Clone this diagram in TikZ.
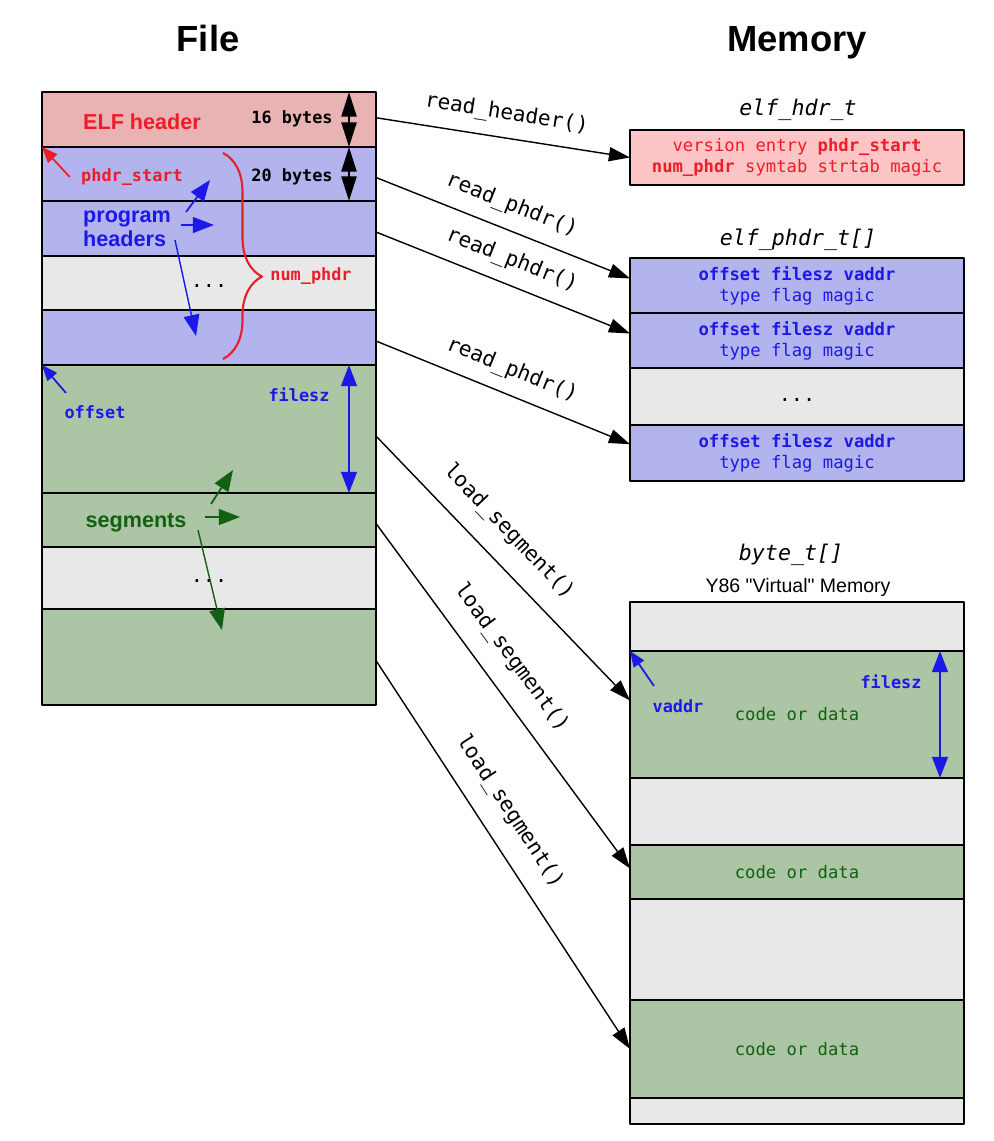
\documentclass[tikz,border=0pt]{standalone}
\usepackage{fontspec}
\setmainfont{Liberation Sans}
\newfontfamily\dvmono{DejaVu Sans Mono}
\newfontfamily\plainsans{Liberation Sans}
\usetikzlibrary{positioning,arrows.meta,decorations.pathreplacing}
\definecolor{hdrpink}{RGB}{234,179,179}
\definecolor{boxpink}{RGB}{253,197,197}
\definecolor{phblue}{RGB}{179,179,238}
\definecolor{gapgray}{RGB}{232,232,232}
\definecolor{seggreen}{RGB}{171,197,165}
\definecolor{txtred}{RGB}{238,28,40}
\definecolor{txtblue}{RGB}{28,24,232}
\definecolor{txtgreen}{RGB}{18,96,18}
\def\pxu{0.02cm}
\begin{document}
\begin{tikzpicture}[x=\pxu,y=-\pxu,line join=round,
  row/.style={draw,line width=1.6pt,outer sep=0pt,inner sep=0pt,minimum width=334*\pxu,align=center,font=\dvmono\fontsize{9.8}{12}\selectfont},
  conn/.style={-{Triangle[length=12pt,width=8pt]},line width=.8pt},
  fn/.style={font=\dvmono\fontsize{12}{14}\selectfont,sloped,above=4pt},
  ttl/.style={font=\dvmono\itshape\fontsize{12.3}{14}\selectfont},
  tag/.style={font=\dvmono\bfseries\fontsize{9.6}{11}\selectfont},
  big/.style={font=\bfseries\fontsize{12.3}{13.6}\selectfont},
  dots/.style={font=\dvmono\fontsize{11.5}{13}\selectfont},
  ptr/.style={-{Triangle[length=9pt,width=7pt]},line width=1pt},
  fat/.style={-{Triangle[length=12pt,width=9pt]},line width=1pt},
  dimarr/.style={{Triangle[length=12pt,width=9pt]}-{Triangle[length=12pt,width=9pt]},line width=1pt}]
\useasboundingbox (0,0) rectangle (993,1141);
\node[font=\bfseries\fontsize{20.7}{24}\selectfont,anchor=base] (tfile) at (208,52) {File};
\node[font=\bfseries\fontsize{20.7}{24}\selectfont,anchor=base] (tmem) at (797,52) {Memory};
% file side
\node[row,fill=hdrpink,minimum height=55*\pxu,anchor=north west] (hdr) at (42,92) {};
\foreach \n/\c/\h/\t [remember=\n as \p (initially hdr)] in {ph1/phblue/54/{},ph2/phblue/55/{},phg/gapgray/54/{\strut...},phn/phblue/55/{},sg1/seggreen/128/{},sg2/seggreen/54/{},sgg/gapgray/62/{\strut...},sgn/seggreen/96/{}}
  \node[row,fill=\c,minimum height=\h*\pxu,below=0pt of \p,dots] (\n) {\t};
\node[big,text=txtred] (elflbl) at (142,122) {ELF header};
\node[tag] (b16) at (292,119) {16 bytes};
\node[tag] (b20) at (292,177) {20 bytes};
\draw[dimarr,line width=1.4pt,{Triangle[length=14pt,width=8.5pt]}-{Triangle[length=14pt,width=8.5pt]}] ([xshift=-27*\pxu]hdr.north east) -- ([xshift=-27*\pxu]hdr.south east);
\draw[dimarr,line width=1.4pt,{Triangle[length=14pt,width=8.5pt]}-{Triangle[length=14pt,width=8.5pt]}] ([xshift=-27*\pxu]ph1.north east) -- ([xshift=-27*\pxu]ph1.south east);
\node[tag,text=txtred] (pslbl) at (132,177) {phdr\_start};
\draw[ptr,txtred] ([xshift=-3pt]pslbl.west) -- (ph1.north west);
\draw[txtred,line width=1.2pt,decorate,decoration={brace,amplitude=0.78cm,aspect=0.6}] (223,153) -- (223,359);
\node[tag,text=txtred] (nplbl) at (311,276) {num\_phdr};
\node[big,text=txtblue,align=left] (phlbl) at (127,229) {program\\headers};
\draw[fat,txtblue] (186,212) -- (210,180);
\draw[fat,txtblue] (181,225) -- (214,225);
\draw[fat,txtblue,line width=.8pt] (175,240) -- (196,336);
\node[tag,text=txtblue] (offlbl) at (95,412) {offset};
\draw[ptr,txtblue] (66,393) -- (sg1.north west);
\node[tag,text=txtblue] (fszl) at (299,395) {filesz};
\draw[dimarr,txtblue] ([xshift=-27*\pxu]sg1.north east) -- ([xshift=-27*\pxu]sg1.south east);
\node[big,text=txtgreen] (seglbl) at (136,523) {segments};
\draw[fat,txtgreen] (211,504) -- (233,470);
\draw[fat,txtgreen] (205,517) -- (240,517);
\draw[fat,txtgreen,line width=.8pt] (198,530) -- (222,630);
% memory side
\node[row,fill=boxpink,text=txtred,minimum height=55*\pxu,anchor=north west] (ehdr) at (630,130) {version entry \textbf{phdr\_start}\\\textbf{num\_phdr} symtab strtab magic};
\node[ttl] (thdr) at (798,110) {elf\_hdr\_t};
\node[row,fill=phblue,text=txtblue,minimum height=55*\pxu,anchor=north west] (ep1) at (630,258) {\textbf{offset filesz vaddr}\\type flag magic};
\node[row,fill=phblue,text=txtblue,minimum height=55*\pxu,below=0pt of ep1] (ep2) {\textbf{offset filesz vaddr}\\type flag magic};
\node[row,fill=gapgray,minimum height=57*\pxu,below=0pt of ep2,dots] (epg) {\strut...};
\node[row,fill=phblue,text=txtblue,minimum height=56*\pxu,below=0pt of epg] (epn) {\textbf{offset filesz vaddr}\\type flag magic};
\node[ttl] (tphdr) at (798,240) {elf\_phdr\_t[]};
\node[row,fill=gapgray,minimum height=49*\pxu,anchor=north west] (m0) at (630,602) {};
\foreach \n/\c/\h/\t [remember=\n as \p (initially m0)] in {m1/seggreen/127/{code or data},m2/gapgray/67/{},m3/seggreen/54/{code or data},m4/gapgray/101/{},m5/seggreen/98/{code or data},m6/gapgray/26/{}}
  \node[row,fill=\c,text=txtgreen,minimum height=\h*\pxu,below=0pt of \p] (\n) {\t};
\node[ttl] (tbyte) at (791,555) {byte\_t[]};
\node[font=\plainsans\fontsize{11.1}{13}\selectfont] (tvm) at (798,587) {Y86 "Virtual" Memory};
\node[tag,text=txtblue] (vlbl) at (678,706) {vaddr};
\draw[ptr,txtblue] (654,686) -- (m1.north west);
\node[tag,text=txtblue] (fszr) at (891,682) {filesz};
\draw[dimarr,txtblue] ([xshift=-24*\pxu]m1.north east) -- ([xshift=-24*\pxu]m1.south east);
% loader calls
\draw[conn] ([yshift=1pt]hdr.east) -- node[fn,midway]{read\_header()} (ehdr.west);
\draw[conn] ([yshift=-2pt]ph1.east) -- node[fn,midway]{read\_phdr()} ([yshift=4pt]ep1.west);
\draw[conn] ([yshift=-2pt]ph2.east) -- node[fn,midway]{read\_phdr()} ([yshift=4pt]ep2.west);
\draw[conn] ([yshift=-2pt]phn.east) -- node[fn,midway]{read\_phdr()} ([yshift=5pt]epn.west);
\draw[conn] ([yshift=-4pt]sg1.east) -- node[fn,pos=.44,above=7pt]{load\_segment()} ([yshift=8pt]m1.west);
\draw[conn] ([yshift=-2pt]sg2.east) -- node[fn,pos=.44,above=7pt]{load\_segment()} ([yshift=2pt]m3.west);
\draw[conn] ([yshift=-2pt]sgn.east) -- node[fn,pos=.43,above=7pt]{load\_segment()} (m5.west);
\end{tikzpicture}
\end{document}
